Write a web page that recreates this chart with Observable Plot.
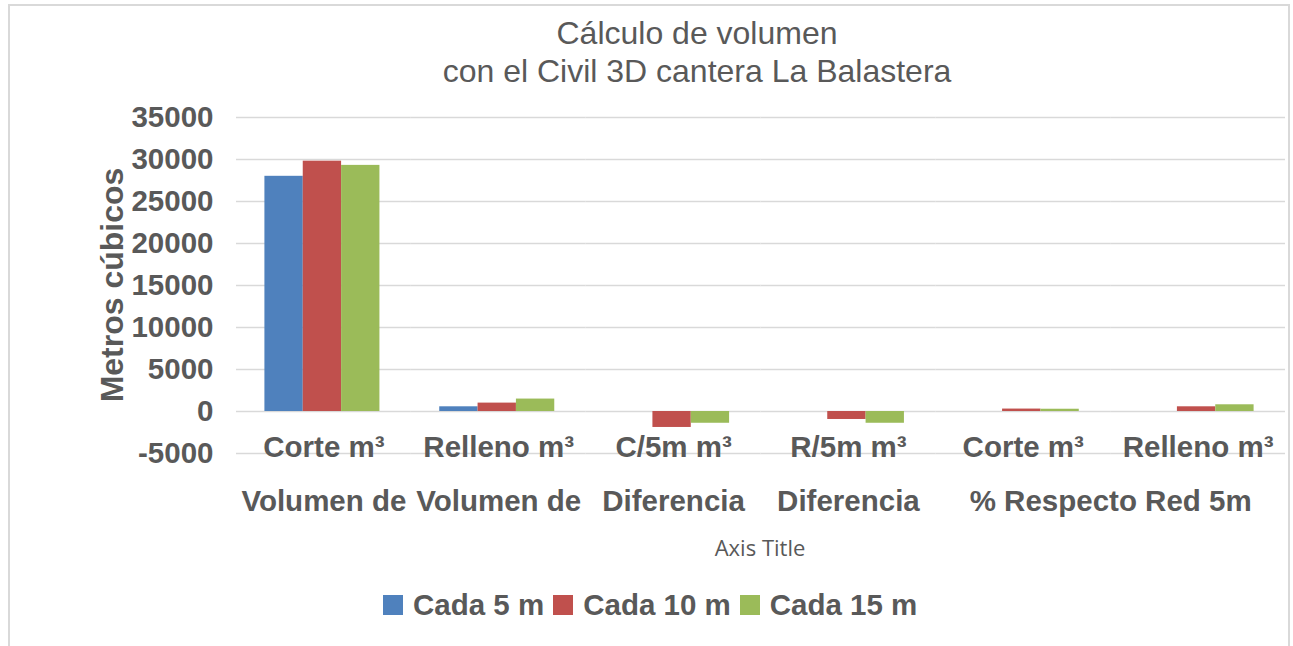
<!DOCTYPE html>
<html>
<head>
<meta charset="utf-8">
<script src="https://cdn.jsdelivr.net/npm/d3@7"></script>
<script src="https://cdn.jsdelivr.net/npm/@observablehq/plot@0.6"></script>
<style>
  html, body { margin: 0; padding: 0; background: #fff; }
  body { width: 1293px; height: 646px; overflow: hidden; position: relative;
         font-family: "Liberation Sans", Arial, sans-serif; color: #595959; }
  #frame { position: absolute; left: 8px; top: 4px; width: 1282px; height: 680px;
           border: 2px solid #d9d9d9; box-sizing: border-box; }
  #title { position: absolute; left: 697px; top: 14px; transform: translateX(-50%);
           text-align: center; font-size: 32px; line-height: 38px; white-space: nowrap; }
  #chart { position: absolute; left: 0; top: 90px; }
  #ytitle { position: absolute; left: 112px; top: 285px; transform: translate(-50%, -50%) rotate(-90deg);
            font-size: 32px; font-weight: bold; white-space: nowrap; }
  #xtitle { position: absolute; left: 760px; top: 547px; transform: translate(-50%, -50%);
            font-family: "Open Sans", sans-serif; font-size: 22px; white-space: nowrap; }
  #legend { position: absolute; left: 383px; top: 590px; height: 30px; display: flex; align-items: center;
            font-size: 29.5px; font-weight: bold; white-space: nowrap; }
  #legend .item { display: flex; align-items: center; margin-right: 9px; }
  #legend .sw { width: 20px; height: 20px; margin-right: 10px; }
</style>
</head>
<body>
<div id="frame"></div>
<div id="title">Cálculo de volumen<br>con el Civil 3D cantera La Balastera</div>
<div id="chart"></div>
<div id="ytitle">Metros cúbicos</div>
<div id="xtitle">Axis Title</div>
<div id="legend"></div>
<script>
// ---- data ----
const categoryKeys = ["volCorte", "volRelleno", "difCorte", "difRelleno", "pctCorte", "pctRelleno"];
const subLabels = ["Corte m³", "Relleno m³", "C/5m m³", "R/5m m³", "Corte m³", "Relleno m³"];
const groupLabels = ["Volumen de", "Volumen de", "Diferencia", "Diferencia", "% Respecto Red 5m", ""];
const groupSpans = [1, 1, 1, 1, 2, 0];
const seriesNames = ["Cada 5 m", "Cada 10 m", "Cada 15 m"];
const cada5 = [28000, 560, 0, 0, 0, 0];
const cada10 = [29800, 1000, -1900, -950, 290, 560];
const cada15 = [29300, 1480, -1400, -1400, 270, 800];
const yTicks = [-5000, 0, 5000, 10000, 15000, 20000, 25000, 30000, 35000];
const seriesColors = ["#4F81BD", "#C0504D", "#9BBB59"];

// ---- build tables ----
const seriesValues = [cada5, cada10, cada15];
const rows = [];
categoryKeys.forEach((key, i) => {
  seriesNames.forEach((s, j) => rows.push({key, series: s, value: seriesValues[j][i]}));
});
const cats = categoryKeys.map((key, i) => ({key, sub: subLabels[i], group: groupLabels[i], span: groupSpans[i]}));

const textColor = "#595959";
const fs = 29.5;
const chart = Plot.plot({
  width: 1293,
  height: 480,
  marginTop: 27,
  marginBottom: 117,
  marginLeft: 236,
  marginRight: 8,
  style: {fontFamily: "Liberation Sans, Arial, sans-serif", color: textColor, background: "transparent", overflow: "visible"},
  fx: {domain: categoryKeys, padding: 0, round: false, axis: null, label: null},
  x: {domain: seriesNames, paddingInner: 0, paddingOuter: 0.78, round: false, axis: null, label: null},
  y: {domain: [-5000, 35000], label: null},
  color: {domain: seriesNames, range: seriesColors},
  marks: [
    Plot.gridY(yTicks, {stroke: "#d9d9d9", strokeOpacity: 1, strokeWidth: 1.5}),
    Plot.barY(rows, {fx: "key", x: "series", y: "value", fill: "series", inset: 0, dx: -1.5}),
    Plot.axisY(yTicks, {tickSize: 0, tickPadding: 23, fontSize: fs, fontWeight: "bold", label: null, tickFormat: d => String(d)}),
    Plot.text(cats, {fx: "key", text: "sub", frameAnchor: "bottom", lineAnchor: "bottom", dy: 3,
                     fontSize: fs, fontWeight: "bold", fill: textColor}),
    Plot.text(cats.filter(d => d.span === 1), {fx: "key", text: "group", frameAnchor: "bottom", lineAnchor: "bottom", dy: 57,
                     fontSize: fs, fontWeight: "bold", fill: textColor}),
    Plot.text(cats.filter(d => d.span === 2), {fx: "key", text: "group", frameAnchor: "bottom-right", textAnchor: "middle", lineAnchor: "bottom", dy: 57,
                     fontSize: fs, fontWeight: "bold", fill: textColor})
  ]
});
document.getElementById("chart").appendChild(chart);

// legend
const legend = document.getElementById("legend");
seriesNames.forEach((s, i) => {
  const item = document.createElement("div");
  item.className = "item";
  const sw = document.createElement("div");
  sw.className = "sw";
  sw.style.background = seriesColors[i];
  const lab = document.createElement("span");
  lab.textContent = s;
  item.appendChild(sw);
  item.appendChild(lab);
  legend.appendChild(item);
});
</script>
</body>
</html>
